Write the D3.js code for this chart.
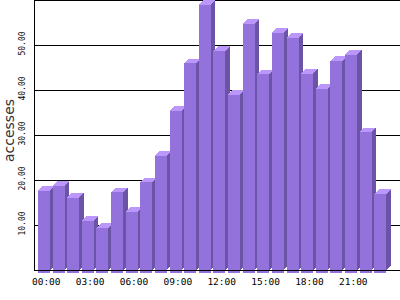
<!DOCTYPE html>
<html>
<head>
<meta charset="utf-8">
<script src="https://cdn.jsdelivr.net/npm/d3@7"></script>
<style>
  html, body { margin: 0; padding: 0; background: #fff; }
  svg { display: block; }
</style>
</head>
<body>
<svg id="chart" width="400" height="300"></svg>
<script>
// hourly accesses
var hours = ["00:00","01:00","02:00","03:00","04:00","05:00","06:00","07:00",
             "08:00","09:00","10:00","11:00","12:00","13:00","14:00","15:00",
             "16:00","17:00","18:00","19:00","20:00","21:00","22:00","23:00"];
var accesses = [17.6, 18.7, 16.1, 11.0, 9.4, 17.3, 13.0, 19.5,
                25.4, 35.4, 45.9, 59.0, 48.7, 39.0, 54.7, 43.5,
                52.7, 51.6, 43.6, 40.3, 46.5, 47.8, 30.6, 16.9];
var yTicks = [10, 20, 30, 40, 50];
var xTickLabels = ["00:00","03:00","06:00","09:00","12:00","15:00","18:00","21:00"];

var svg = d3.select("#chart");
var left = 34, bottom = 270, right = 400;
var dx = 4.5, dy = 4.5;   // depth of the 3d bars

var x = d3.scaleBand().domain(hours).range([36.7, 387.6])
    .paddingInner(0.179).paddingOuter(0.09);
var y = d3.scaleLinear().domain([0, 60]).range([bottom, 0]);

// grid lines (behind the bars), top one is the frame
svg.append("g").selectAll("line")
    .data(yTicks.concat([60]))
    .join("line")
    .attr("x1", left).attr("x2", right)
    .attr("y1", d => Math.round(y(d)) + 0.5)
    .attr("y2", d => Math.round(y(d)) + 0.5)
    .attr("stroke", "#000")
    .attr("stroke-width", 1);

// bars, drawn left to right so the next front covers the previous side
var base = bottom + 3;
var w = x.bandwidth();
var bar = svg.append("g").attr("shape-rendering", "crispEdges")
    .selectAll("g")
    .data(hours.map((h, i) => ({h: h, v: accesses[i]})))
    .join("g");

bar.append("polygon")   // side
    .attr("fill", "#6b53a6")
    .attr("points", d => {
        var x0 = x(d.h) + w, y0 = y(d.v);
        return [[x0, y0], [x0 + dx, y0 - dy], [x0 + dx, bottom - dy], [x0, bottom]].join(" ");
    });
bar.append("polygon")   // top
    .attr("fill", "#bc97fb")
    .attr("points", d => {
        var x0 = x(d.h), y0 = y(d.v);
        return [[x0, y0], [x0 + w, y0], [x0 + w + dx, y0 - dy], [x0 + dx, y0 - dy]].join(" ");
    });
bar.append("rect")      // front
    .attr("fill", "#9372dc")
    .attr("x", d => x(d.h))
    .attr("y", d => y(d.v))
    .attr("width", w)
    .attr("height", d => base - y(d.v));

// axes lines
svg.append("line")
    .attr("x1", left + 0.5).attr("x2", left + 0.5)
    .attr("y1", 0).attr("y2", bottom + 0.5)
    .attr("stroke", "#000");
svg.append("line")
    .attr("x1", left).attr("x2", right)
    .attr("y1", bottom + 0.5).attr("y2", bottom + 0.5)
    .attr("stroke", "#000");

// y tick labels, rotated
svg.append("g").selectAll("text")
    .data(yTicks)
    .join("text")
    .attr("transform", d => `translate(25,${y(d) - 1.5}) rotate(-90)`)
    .attr("text-anchor", "middle")
    .attr("font-family", "DejaVu Sans Mono")
    .attr("font-size", 8)
    .attr("fill", "#000")
    .text(d => d.toFixed(2));

// x tick labels every 3 hours
svg.append("g").selectAll("text")
    .data(xTickLabels)
    .join("text")
    .attr("x", d => x(d) + (w + dx) / 2)
    .attr("y", 285)
    .attr("text-anchor", "middle")
    .attr("font-family", "DejaVu Sans Mono")
    .attr("font-size", 9.5)
    .attr("fill", "#000")
    .text(d => d);

// y axis title
svg.append("text")
    .attr("transform", "translate(13.5,130.5) rotate(-90)")
    .attr("text-anchor", "middle")
    .attr("font-family", "DejaVu Sans")
    .attr("font-size", 14)
    .attr("fill", "#333")
    .text("accesses");
</script>
</body>
</html>
